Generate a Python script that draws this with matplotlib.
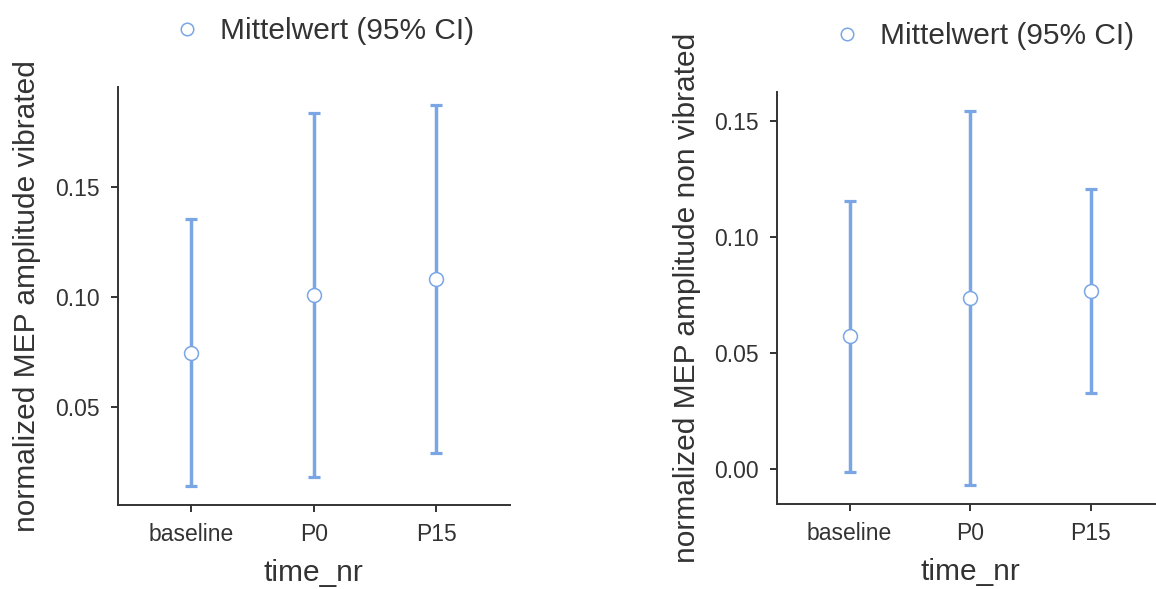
import numpy as np
import matplotlib
matplotlib.use("Agg")
import matplotlib.pyplot as plt
from matplotlib.lines import Line2D

plt.rcParams['font.family'] = ['Liberation Sans', 'DejaVu Sans']

time_nr = ["baseline", "P0", "P15"]

# vibrated
vib_mean = [0.0745, 0.1008, 0.1080]
vib_low = [0.0140, 0.0182, 0.0291]
vib_high = [0.1352, 0.1836, 0.1871]

# non vibrated
nonvib_mean = [0.0574, 0.0738, 0.0767]
nonvib_low = [-0.0010, -0.0068, 0.0328]
nonvib_high = [0.1155, 0.1543, 0.1207]

blue = '#7aa6e6'
dark = '#333333'

fig = plt.figure(figsize=(11.56, 5.89), dpi=100)
ax1 = fig.add_axes([0.1018, 0.1426, 0.3394, 0.7102])
ax2 = fig.add_axes([0.6724, 0.1443, 0.3336, 0.6990])

def draw(ax, mean, low, high, ylim, yticks, ylabel, leg_xy):
  x = np.arange(len(time_nr))
  mean = np.array(mean); low = np.array(low); high = np.array(high)
  ax.errorbar(x, mean, yerr=[mean - low, high - mean], fmt='none',
              ecolor=blue, elinewidth=2.5, capsize=4, capthick=2.3, zorder=2)
  ax.plot(x, mean, 'o', ms=10, mfc='white', mec=blue, mew=1.1, zorder=3)
  ax.set_xlim(-0.6, 2.6)
  ax.set_ylim(*ylim)
  ax.set_xticks(x)
  ax.set_xticklabels(time_nr)
  ax.set_yticks(yticks)
  ax.set_yticklabels(['%.2f' % t for t in yticks])
  for s in ['top', 'right']:
    ax.spines[s].set_visible(False)
  for s in ['left', 'bottom']:
    ax.spines[s].set_linewidth(1.4)
    ax.spines[s].set_color(dark)
  ax.tick_params(length=5, width=1.4, color=dark, labelsize=16.5,
                 labelcolor=dark, pad=8)
  ax.set_xlabel("time_nr", fontsize=21.5, color=dark, labelpad=9)
  ax.set_ylabel(ylabel, fontsize=21.5, color=dark, labelpad=10)
  h = Line2D([], [], ls='none', marker='o', ms=9, mfc='white', mec=blue, mew=1.1)
  ax.legend([h], ["Mittelwert (95% CI)"], loc='center left', frameon=False,
            bbox_to_anchor=leg_xy, bbox_transform=fig.transFigure,
            fontsize=21.5, handletextpad=0.6, labelcolor=dark,
            handlelength=1.0, borderpad=0, borderaxespad=0)

draw(ax1, vib_mean, vib_low, vib_high, (0.0053, 0.1955), [0.05, 0.10, 0.15],
     "normalized MEP amplitude vibrated", (0.1488, 1 - 31 / 589))
draw(ax2, nonvib_mean, nonvib_low, nonvib_high, (-0.0149, 0.1622),
     [0.00, 0.05, 0.10, 0.15], "normalized MEP amplitude non vibrated",
     (0.7197, 1 - 36 / 589))

fig.savefig("out.png", dpi=100)
